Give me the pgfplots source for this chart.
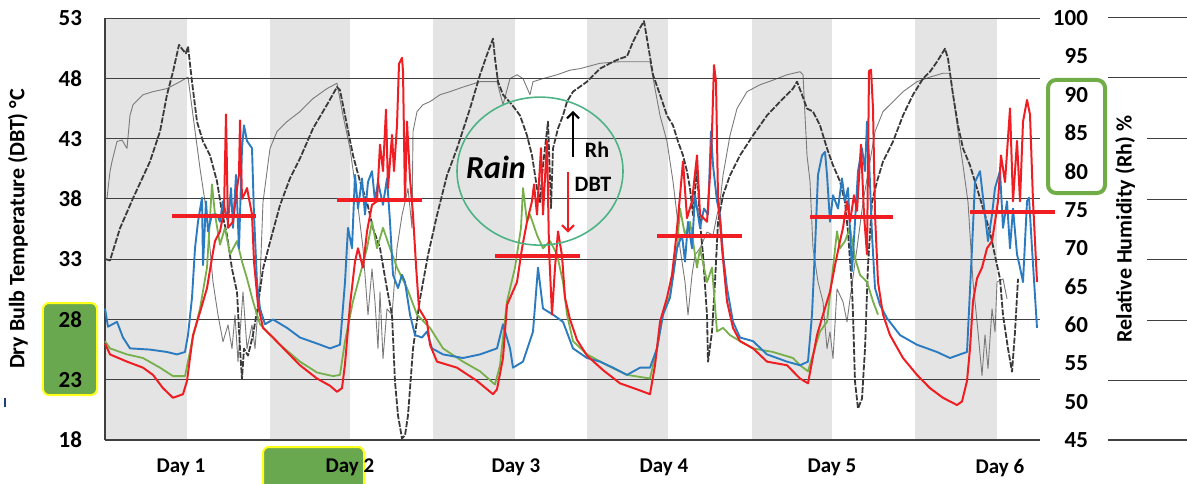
\documentclass[border=0pt]{standalone}
\usepackage{fontspec}
\setmainfont{Carlito}
\usepackage{pgfplots}
\pgfplotsset{compat=1.18}
\usetikzlibrary{arrows.meta}

\definecolor{bandgray}{HTML}{E4E4E4}
\definecolor{gridcol}{HTML}{3F3F3F}
\definecolor{dbtred}{HTML}{F01E23}
\definecolor{dbtblue}{HTML}{2B7BC1}
\definecolor{dbtgreen}{HTML}{77B04B}
\definecolor{rhdark}{HTML}{3A3A3A}
\definecolor{rhgray}{HTML}{7A7A7A}
\definecolor{circgreen}{HTML}{4DB386}
\definecolor{boxgreen}{HTML}{6AA84F}
\definecolor{boxyellow}{HTML}{FFFF1A}
\definecolor{outgreen}{HTML}{70AD47}
\definecolor{markblue}{HTML}{1F3F7F}

\pgfplotsset{
  chartbase/.style={
    width=467.5pt, height=211pt, scale only axis,
    xmin=0, xmax=935,
    major tick length=0pt,
    /pgf/number format/assume math mode=true,
    tick label style={font=\fontsize{11.5}{13}\selectfont\bfseries},
  },
}

\begin{document}
\begin{tikzpicture}
\useasboundingbox (-52.5pt,-21.5pt) rectangle (541pt,220pt);

% highlight boxes behind the tick labels
\draw[line width=1pt, draw=boxyellow, fill=boxgreen, rounded corners=3pt] (-31pt,22.5pt) rectangle (-4pt,68.5pt);
\draw[line width=1pt, draw=boxyellow, fill=boxgreen, rounded corners=3pt] (79pt,-3.5pt) rectangle (129.5pt,-28pt);
\draw[line width=2pt, draw=outgreen, rounded corners=4pt] (471.5pt,123.5pt) rectangle (500pt,180pt);
\draw[markblue, line width=0.6pt] (-50pt,16.5pt) -- (-50pt,21pt);

% ---- relative humidity (right axis), drawn first so DBT lines sit on top
\begin{axis}[
  chartbase,
  ymin=45, ymax=100,
  hide x axis,
  axis y line*=right,
  y axis line style={draw=none},
  ytick={45,50,...,100},
  yticklabel style={anchor=east, xshift=27.5pt},
  ylabel={Relative Humidity (Rh) \%},
  every axis y label/.style={at={(axis description cs:1.091,0.5)}, rotate=90, anchor=center,
    font=\fontsize{11}{13}\selectfont\bfseries},
]
% night bands
\addplot[fill=bandgray, draw=none] coordinates {(0,45) (0,100) (82,100) (82,45)} -- cycle;
\addplot[fill=bandgray, draw=none] coordinates {(165,45) (165,100) (245,100) (245,45)} -- cycle;
\addplot[fill=bandgray, draw=none] coordinates {(328,45) (328,100) (410,100) (410,45)} -- cycle;
\addplot[fill=bandgray, draw=none] coordinates {(482,45) (482,100) (563,100) (563,45)} -- cycle;
\addplot[fill=bandgray, draw=none] coordinates {(647,45) (647,100) (727,100) (727,45)} -- cycle;
\addplot[fill=bandgray, draw=none] coordinates {(810,45) (810,100) (892,100) (892,45)} -- cycle;

% Rh, thin grey
\addplot[rhgray, line width=0.45pt, line join=round] coordinates {
(2,76.5) (5,80) (7,81.3) (12,83.9) (17,84.1) (22,83.0) (25,87.3) (28,88.7) (38,90.0) (48,90.4)
(62,90.8) (75,91.7) (83,92.3) (88,87.3) (95,80.4) (102,74.3) (108,65.6) (113,61.3) (118,57.8)
(123,60.0) (127,56.9) (130,61.3) (133,55.2) (138,64.3) (142,56.9) (147,60.0) (150,56.9) (155,65.6)
(158,76.0) (165,83.0) (172,85.2) (182,86.5) (195,87.8) (208,89.5) (222,90.8) (232,91.5) (238,87.3)
(245,83.0) (252,76.5) (258,70.0) (263,61.3) (267,67.3) (270,63.0) (273,56.9) (275,64.3) (278,55.6)
(282,62.1) (287,61.3) (292,70.0) (297,74.3) (300,76.0) (303,77.8) (307,72.6) (308,85.2) (312,87.8)
(318,88.7) (325,89.1) (335,90.0) (345,90.4) (358,91.0) (375,91.7) (392,91.7) (398,88.7) (405,92.1)
(412,92.6) (418,92.1) (425,90.0) (428,91.7) (438,92.1) (452,92.6) (465,93.2) (475,93.4) (495,94.1)
(515,94.3) (545,94.3) (550,90.8) (555,87.3) (562,83.9) (568,78.7) (572,74.3) (575,70.0) (580,65.6)
(583,61.3) (587,66.5) (590,69.1) (595,70.0) (602,72.1) (608,71.7) (612,74.3) (615,76.0) (618,79.5)
(625,84.7) (632,88.2) (642,90.4) (655,91.3) (668,91.9) (682,92.6) (695,93.0) (698,92.6) (700,87.3)
(702,82.1) (705,78.7) (708,70.0) (713,65.6) (718,63.0) (722,56.9) (725,59.1) (728,55.6) (732,64.7)
(738,63.0) (742,60.4) (745,63.4) (752,70.0) (758,76.0) (765,81.3) (770,85.2) (778,87.8) (788,89.1)
(798,90.4) (812,91.7) (825,92.3) (838,92.8) (845,92.8) (848,90.0) (853,85.2) (858,80.8) (863,76.0)
(868,65.6) (873,59.1) (877,53.4) (880,58.7) (883,54.3) (887,62.1) (890,59.1) (892,65.6) (898,66.0)
(902,63.4)
};

% Rh, dark dashed
\addplot[rhdark, line width=0.9pt, dash pattern=on 3pt off 0.8pt, line join=round] coordinates {
(0,68.6) (5,68.4) (15,72.6) (28,76.5) (45,81.3) (55,85.2) (62,90.0) (68,93.0) (74,96.5) (78,95.8)
(81,95.4) (83,96.3) (87,91.7) (92,86.5) (98,83.9) (105,82.1) (112,78.7) (117,74.7) (122,71.7)
(127,67.3) (132,64.3) (135,56.9) (137,53.0) (139,56.9) (143,56.0) (148,58.7) (153,62.6) (158,67.3)
(165,70.8) (175,75.6) (185,79.1) (195,81.7) (208,85.6) (222,88.7) (232,91.0) (235,90.6) (242,86.0)
(248,82.1) (255,78.7) (262,76.0) (268,72.6) (275,70.0) (282,64.7) (287,61.3) (290,52.6) (293,48.2)
(297,45.2) (300,45.6) (303,48.2) (308,56.9) (315,63.4) (323,69.1) (332,74.3) (342,79.5) (352,83.0)
(365,88.2) (375,92.6) (383,95.6) (388,97.3) (390,94.7) (393,91.7) (398,90.0) (407,88.7) (415,87.3)
(422,84.7) (427,82.1) (432,77.8) (435,76.0) (438,80.8) (443,86.5) (446,75.2) (448,83.0) (453,85.6)
(458,87.3) (462,89.1) (468,90.4) (482,91.7) (495,93.4) (508,94.3) (515,94.7) (522,95.0) (528,96.9)
(535,98.7) (539,99.6) (543,96.5) (548,92.6) (555,90.0) (562,87.3) (568,86.0) (573,83.9) (578,82.1)
(582,80.0) (585,77.8) (588,74.3) (592,80.4) (595,73.4) (598,69.1) (602,61.3) (603,55.2) (607,59.1)
(610,65.6) (613,73.4) (618,76.9) (625,79.5) (635,82.1) (648,84.7) (662,87.3) (675,89.1) (688,90.8)
(692,91.7) (697,90.0) (702,88.2) (708,87.8) (715,86.0) (722,83.0) (728,80.8) (735,78.7) (740,76.0)
(743,72.1) (747,64.7) (748,61.3) (750,52.6) (753,49.1) (757,50.4) (760,56.9) (763,67.8) (767,76.0)
(772,78.7) (778,81.3) (788,83.9) (798,87.3) (808,90.0) (818,92.1) (825,93.0) (832,94.3) (840,96.0)
(843,94.7) (848,90.0) (853,86.0) (858,83.0) (865,80.8) (872,77.8) (878,75.2) (885,72.1) (892,67.8)
(895,66.0) (898,61.3) (903,56.9) (907,53.9) (910,59.1) (913,66.0)
};
\end{axis}

% ---- dry bulb temperature (left axis)
\begin{axis}[
  chartbase,
  clip=false,
  ymin=18, ymax=53,
  axis x line*=bottom, axis y line*=left,
  x axis line style={line width=1.1pt, gridcol},
  y axis line style={line width=0.6pt, gridcol},
  ytick={18,23,...,53},
  ymajorgrids, grid style={gridcol, line width=0.5pt},
  yticklabel style={anchor=east, xshift=-8pt},
  xtick={76,245,411,559,727,895},
  xticklabels={Day 1,Day 2,Day 3,Day 4,Day 5,Day 6},
  xticklabel style={font=\fontsize{10.5}{12}\selectfont\bfseries, yshift=-6pt},
  ylabel={Dry Bulb Temperature (DBT) °C},
  every axis y label/.style={at={(axis description cs:-0.093,0.5)}, rotate=90, anchor=center,
    font=\fontsize{11}{13}\selectfont\bfseries},
]
% green
\addplot[dbtgreen, line width=0.9pt, line join=round] coordinates {
(0,26.2) (5,25.6) (22,25.1) (38,24.8) (55,24.0) (68,23.3) (80,23.3) (87,26.2) (95,28.9) (102,32.3)
(107,39.2) (110,36.7) (115,34.2) (120,35.6) (125,33.4) (132,34.5) (137,32.8) (142,31.4) (148,29.5)
(155,27.6) (162,27.0) (175,25.9) (195,24.5) (212,23.6) (228,23.3) (235,23.4) (240,26.2) (248,29.5)
(255,31.7) (262,33.9) (267,36.1) (272,33.9) (278,35.6) (285,33.9) (292,32.3) (302,30.6) (312,28.4)
(325,27.3) (338,25.6) (358,24.5) (375,23.7) (390,22.6) (395,24.2) (402,29.5) (410,32.3) (416,35.6)
(418,38.9) (422,36.1) (425,36.7) (432,35.0) (438,33.9) (445,34.5) (452,33.4) (458,31.1) (462,28.4)
(468,26.2) (482,25.1) (502,24.2) (522,23.4) (545,23.1) (552,25.6) (558,28.4) (565,30.0) (572,33.9)
(575,37.2) (580,35.0) (585,36.1) (592,32.3) (595,33.9) (602,31.1) (607,32.3) (612,27.0) (618,27.3)
(625,26.7) (635,26.2) (648,25.6) (668,25.3) (688,24.8) (695,24.2) (703,23.7) (708,25.1) (715,27.0)
(722,27.8) (728,32.3) (732,35.3) (735,33.9) (740,34.5) (745,35.6) (750,33.1) (755,31.7) (762,31.1)
(768,29.5) (773,28.4)
};
% blue
\addplot[dbtblue, line width=0.95pt, line join=round] coordinates {
(0,28.9) (3,27.4) (12,27.8) (18,26.5) (25,25.6) (45,25.5) (62,25.3) (72,25.1) (80,25.3) (83,26.7)
(87,29.8) (90,33.9) (93,36.1) (97,38.1) (98,32.5) (101,37.8) (103,35.3) (107,36.7) (112,36.7)
(115,36.1) (118,37.8) (123,36.1) (126,38.9) (128,35.6) (131,40.0) (134,33.9) (137,42.2) (139,44.1)
(142,42.8) (147,42.2) (149,36.7) (152,31.1) (155,28.9) (160,27.6) (168,28.0) (182,27.3) (195,26.5)
(212,26.0) (225,25.6) (235,25.9) (240,31.1) (243,35.6) (247,33.9) (250,40.0) (253,37.2) (257,39.7)
(260,36.7) (263,39.4) (267,40.3) (270,37.8) (273,39.4) (278,37.5) (282,39.7) (285,36.1) (288,31.7)
(293,30.6) (297,31.7) (300,31.1) (305,28.4) (310,26.7) (317,26.5) (322,27.0) (327,25.6) (338,25.1)
(358,24.8) (375,25.1) (392,25.6) (398,27.6) (405,25.6) (408,24.0) (418,24.5) (428,27.0) (433,32.3)
(438,28.9) (448,28.4) (458,27.8) (468,25.6) (482,24.8) (495,24.5) (508,24.0) (522,23.4) (535,24.0)
(545,24.0) (552,25.6) (558,28.4) (565,29.8) (572,33.9) (577,35.0) (580,32.8) (583,36.1) (587,33.9)
(590,38.3) (595,35.6) (599,37.2) (603,36.7) (606,43.6) (608,40.8) (612,37.8) (615,36.7) (618,33.4)
(622,30.6) (628,27.8) (635,26.5) (648,26.2) (662,25.1) (682,24.5) (695,24.2) (703,24.5) (707,28.4)
(710,33.9) (713,40.0) (717,41.6) (720,41.9) (722,40.0) (725,36.1) (728,38.3) (733,37.2) (737,39.7)
(740,37.8) (743,38.9) (747,32.0) (750,36.1) (753,40.3) (757,42.2) (760,40.3) (762,44.4) (764,41.4)
(767,35.0) (770,30.6) (775,29.2) (782,28.1) (795,26.7) (812,25.9) (832,25.3) (845,24.8) (855,25.1)
(862,25.3) (867,33.9) (870,39.4) (875,40.3) (878,38.1) (883,34.5) (887,36.7) (890,38.9) (895,40.3)
(898,35.6) (902,37.8) (905,33.9) (908,37.2) (912,33.4) (915,32.3) (918,31.1) (922,37.8) (924,38.1)
(927,33.9) (932,27.3)
};
% red
\addplot[dbtred, line width=1pt, line join=round] coordinates {
(0,26.0) (5,25.1) (22,24.5) (38,24.0) (48,23.4) (58,22.3) (68,21.5) (78,21.8) (82,22.9) (88,26.7)
(95,28.6) (102,30.6) (107,33.1) (110,34.5) (115,35.3) (119,37.0) (121,45.0) (123,35.6) (128,36.1)
(132,38.9) (134,40.0) (135,44.5) (137,38.0) (140,38.5) (142,38.9) (147,36.7) (149,32.8) (153,29.2)
(158,27.3) (168,26.5) (182,25.3) (195,24.2) (212,23.1) (225,22.5) (232,22.0) (237,22.3) (240,24.3)
(245,29.2) (250,32.8) (253,33.9) (258,32.3) (262,35.3) (267,37.5) (272,37.8) (275,42.5) (278,40.3)
(281,45.4) (283,38.9) (287,43.3) (289,40.3) (292,44.1) (294,49.2) (297,49.7) (298,48.6) (300,37.8)
(302,44.4) (305,39.7) (308,36.7) (311,32.5) (314,28.9) (322,27.8) (325,25.9) (332,24.5) (352,24.0)
(372,22.9) (388,21.8) (392,22.2) (398,24.8) (402,29.2) (412,31.1) (417,33.9) (422,36.1) (427,37.8)
(429,39.2) (432,36.7) (436,42.2) (438,36.7) (442,42.8) (444,33.9) (447,28.4) (450,32.3) (453,35.3)
(457,33.3) (460,29.8) (465,28.0) (472,26.3) (482,25.0) (498,23.8) (515,22.7) (532,22.2) (545,21.8)
(550,24.2) (555,27.8) (562,29.8) (567,31.7) (570,33.9) (573,36.4) (578,41.1) (582,36.4) (587,37.8)
(592,41.6) (595,36.7) (602,36.1) (605,40.0) (607,43.6) (609,49.1) (611,47.7) (613,38.1) (617,33.9)
(622,29.5) (628,27.3) (635,26.2) (648,25.6) (662,24.5) (682,24.2) (695,23.1) (703,22.7) (707,24.5)
(712,26.7) (718,28.4) (725,30.3) (730,32.5) (735,34.5) (738,35.6) (742,37.8) (745,36.1) (749,38.3)
(752,37.0) (756,42.5) (759,36.7) (762,33.4) (764,48.6) (766,48.7) (768,45.5) (770,36.7) (773,31.1)
(778,28.4) (785,26.7) (798,24.8) (812,23.4) (825,22.3) (838,21.5) (852,20.9) (857,21.2) (862,22.9)
(865,25.6) (868,29.5) (872,31.4) (877,32.3) (882,33.9) (887,34.5) (890,36.1) (893,37.8) (896,41.6)
(900,39.4) (905,45.5) (908,37.8) (912,42.8) (915,37.8) (918,44.4) (922,46.2) (925,45.0) (928,37.8)
(932,31.1)
};
% daily means
\addplot[dbtred, line width=2pt] coordinates {(67,36.6) (151,36.6)};
\addplot[dbtred, line width=2pt] coordinates {(232,37.9) (317,37.9)};
\addplot[dbtred, line width=2pt] coordinates {(390,33.3) (475,33.3)};
\addplot[dbtred, line width=2pt] coordinates {(552,34.9) (637,34.9)};
\addplot[dbtred, line width=2pt] coordinates {(705,36.5) (788,36.5)};
\addplot[dbtred, line width=2pt] coordinates {(865,36.9) (950,36.9)};

% rain annotation
\draw[circgreen, line width=0.8pt] (axis cs:435,40.3) ellipse [x radius=41.5pt, y radius=37pt];
\node[font=\fontsize{16}{18}\selectfont\bfseries\itshape] at (axis cs:391,40.6) {Rain};
\draw[-{Straight Barb[length=3pt,width=6pt]}, line width=1.1pt, black] (axis cs:468,41.5) -- (axis cs:468,45.3);
\node[font=\fontsize{11}{13}\selectfont\bfseries] at (axis cs:492,42.1) {Rh};
\draw[-{Straight Barb[length=3pt,width=6pt]}, line width=1.1pt, dbtred] (axis cs:463,40.2) -- (axis cs:463,35.2);
\node[font=\fontsize{11}{13}\selectfont\bfseries] at (axis cs:488,39.2) {DBT};
\end{axis}

% grid stubs to the right of the humidity labels
\draw[gridcol, line width=0.5pt] (501.5pt,211pt) -- (541pt,211pt);
\draw[gridcol, line width=0.5pt] (501.5pt,181pt) -- (541pt,181pt);
\draw[gridcol, line width=0.5pt] (521pt,151pt) -- (541pt,151pt);
\draw[gridcol, line width=0.5pt] (521pt,120.5pt) -- (541pt,120.5pt);
\draw[gridcol, line width=0.5pt] (521pt,90.5pt) -- (541pt,90.5pt);
\draw[gridcol, line width=0.5pt] (521pt,60pt) -- (541pt,60pt);
\draw[gridcol, line width=0.5pt] (501.5pt,30pt) -- (541pt,30pt);
\draw[gridcol, line width=1pt] (501.5pt,0pt) -- (541pt,0pt);
\end{tikzpicture}
\end{document}
